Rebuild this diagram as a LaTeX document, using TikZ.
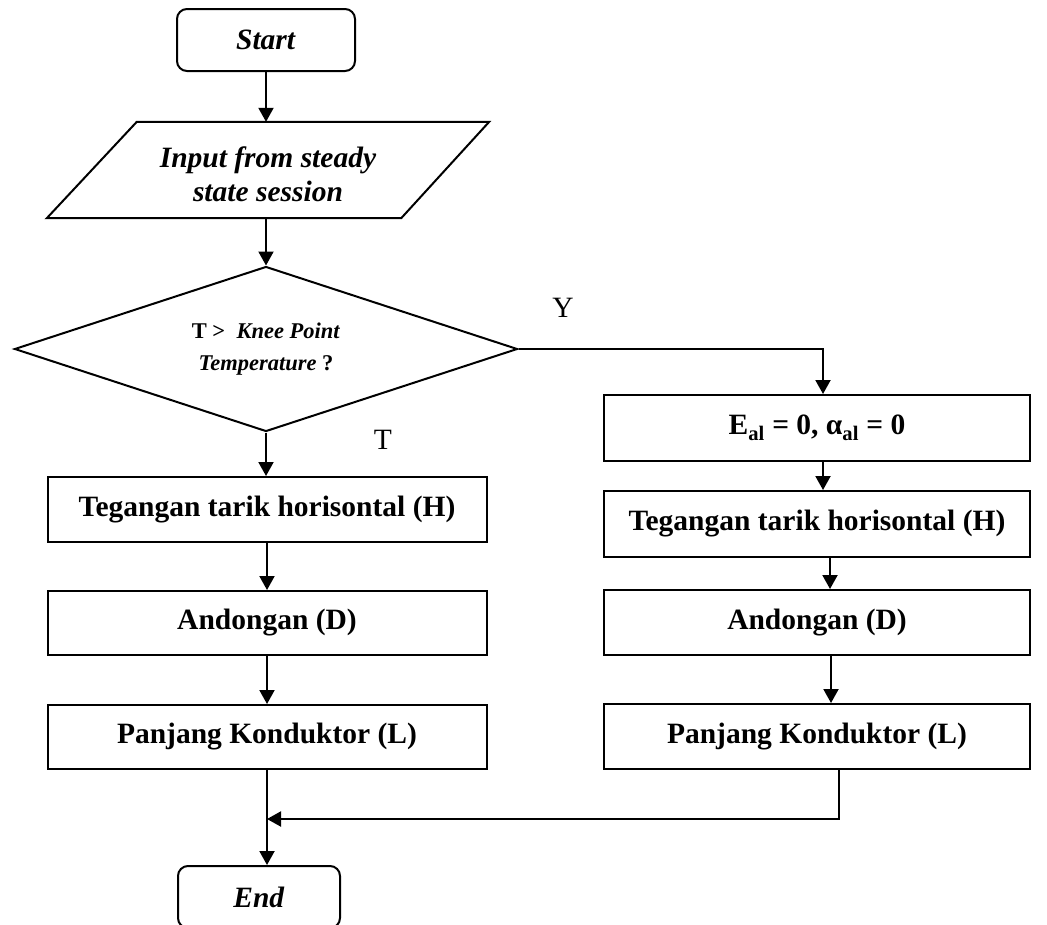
\documentclass[tikz,border=0pt]{standalone}
\usepackage{fontspec}
\setmainfont{Liberation Serif}
\usetikzlibrary{shapes.geometric,arrows.meta}
\begin{document}
\begin{tikzpicture}[x=1pt,y=-1pt,
  every node/.style={font=\bfseries\fontsize{29.5}{34}\selectfont},
  ln/.style={line width=2pt},
  arr/.style={line width=2pt,-{Triangle[length=14pt,width=15pt]}},
  term/.style={draw,line width=2pt,rounded corners=10pt,minimum width=#1,minimum height=62pt,inner sep=0pt},
  procbox/.style={draw,line width=2pt,minimum width=#1,inner sep=0pt},
  lbl/.style={font=\fontsize{29.5}{34}\selectfont}]
\fill[white] (0,0) rectangle (1047,924);
\useasboundingbox (0,0) rectangle (1047,924);

% nodes
\node[term=178pt] (start) at (266,40) {\textit{Start}};
\node[minimum width=442pt,minimum height=96pt,inner sep=0pt] (inp) at (268,170) {};
\node[align=center,inner sep=0pt] (inptext) at (268,174)
  {\textit{Input from steady}\\[0pt]\textit{state session}};
\draw[ln] (inp.south west) -- ([xshift=90pt]inp.north west) -- (inp.north east)
  -- ([xshift=-88pt]inp.south east) -- cycle;
\node[diamond,draw,line width=2pt,minimum width=503pt,minimum height=165pt,inner sep=0pt,aspect=3,
  align=center,font=\bfseries\fontsize{22.5}{32}\selectfont] (dec) at (266,349)
  {T > \textit{ Knee Point}\\\textit{Temperature} ?};

\node[procbox=439pt,minimum height=65pt] (t1) at (267,509.5) {Tegangan tarik horisontal (H)};
\node[procbox=439pt,minimum height=64pt] (a1) at (267,623) {Andongan (D)};
\node[procbox=439pt,minimum height=64pt] (p1) at (267,737) {Panjang Konduktor (L)};

\node[procbox=426pt,minimum height=66pt] (e2) at (817,428)
  {E\textsubscript{al} = 0, α\textsubscript{al} = 0};
\node[procbox=426pt,minimum height=66pt] (t2) at (817,524) {Tegangan tarik horisontal (H)};
\node[procbox=426pt,minimum height=65pt] (a2) at (817,622.5) {Andongan (D)};
\node[procbox=426pt,minimum height=65pt] (p2) at (817,736.5) {Panjang Konduktor (L)};

\node[term=162pt] (end) at (259,897) {\textit{End}};

\node[lbl] (ylab) at (563,308) {Y};
\node[lbl] (tlab) at (383,440) {T};

\coordinate (m) at (267,819);

% connectors
\draw[arr] (start.south) -- (start.south |- inp.north);
\draw[arr] (inp.south -| dec.north) -- (dec.north);
\draw[arr] (dec.south) -- (dec.south |- t1.north);
\draw[arr] (t1.south) -- (a1.north);
\draw[arr] (a1.south) -- (p1.north);
\draw[arr] (dec.east) -| ([xshift=6pt]e2.north);
\draw[arr] ([xshift=6pt]e2.south) -- ([xshift=6pt]t2.north);
\draw[arr] ([xshift=13pt]t2.south) -- ([xshift=13pt]a2.north);
\draw[arr] ([xshift=14pt]a2.south) -- ([xshift=14pt]p2.north);
\draw[arr] ([xshift=22pt]p2.south) |- (m);
\draw[arr] (p1.south) -- (p1.south |- end.north);
\end{tikzpicture}
\end{document}
